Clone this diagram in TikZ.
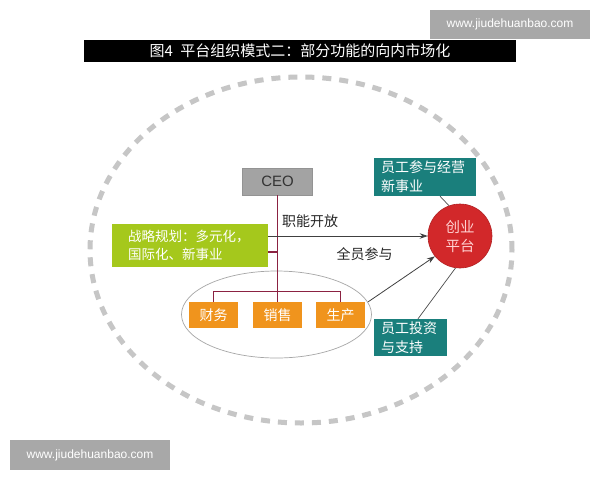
\documentclass[tikz,border=0pt]{standalone}
\usepackage{fontspec}
\setmainfont{Noto Sans CJK SC}
\newfontfamily\latf{Liberation Sans}
\usetikzlibrary{arrows.meta}
\definecolor{cOrange}{HTML}{F0941D}
\definecolor{cGreen}{HTML}{A5C81C}
\definecolor{cTeal}{HTML}{1A7F7C}
\definecolor{cRed}{HTML}{D2282A}
\definecolor{cCeo}{HTML}{A3A3A3}
\definecolor{cDash}{HTML}{C6C6C6}
\definecolor{cMaroon}{HTML}{8B2242}
\definecolor{cWm}{HTML}{A8A8A8}
\begin{document}
\begin{tikzpicture}[x=1pt,y=-1pt,
  ceobox/.style={fill=cCeo, draw=cCeo!90!black, line width=0.4pt, minimum width=70pt, minimum height=27pt, inner sep=0pt, text=black!80, font=\latf\fontsize{15}{18}\selectfont},
  greenbox/.style={fill=cGreen, minimum width=156pt, minimum height=43pt, inner xsep=16pt, inner ysep=0pt, text width=124pt, align=left, text=white, font=\fontsize{13.5}{18}\selectfont},
  orangebox/.style={fill=cOrange, minimum width=49pt, minimum height=26pt, inner sep=0pt, text=white, font=\fontsize{14}{16}\selectfont},
  tealbox/.style={fill=cTeal, inner xsep=7pt, inner ysep=0pt, align=left, text=white, font=\fontsize{14}{19}\selectfont},
  redcircle/.style={circle, fill=cRed, draw=cRed!85!black, line width=0.6pt, minimum size=64pt, inner sep=0pt, align=center, text=white!82!red, font=\fontsize{14.5}{19}\selectfont},
  orgline/.style={draw=cMaroon, line width=1.3pt},
  arrline/.style={draw=black!75, line width=0.8pt, -{Stealth[length=8pt,width=5.5pt]}},
  thinline/.style={draw=black!70, line width=0.7pt},
  lbl/.style={text=black!85, font=\fontsize{14}{16}\selectfont, inner sep=0pt},
  wmark/.style={fill=cWm, text=white, inner sep=0pt, font=\latf\fontsize{12}{14}\selectfont}
]
\useasboundingbox (0,0) rectangle (600,480);
\fill[white] (0,0) rectangle (600,480);

% title bar
\node[fill=black, minimum width=432pt, minimum height=22pt, inner sep=0pt, text=white,
      font=\fontsize{15}{18}\selectfont] (title) at (300,51) {图4\hspace{0.5em}平台组织模式二：部分功能的向内市场化};

% dashed outer ellipse
\draw[cDash, line width=5pt, dash pattern=on 9pt off 8pt] (301,250) ellipse [x radius=211pt, y radius=173pt];

% grey ellipse around functions
\draw[black!35, line width=0.7pt] (276.5,314.5) ellipse [x radius=95pt, y radius=43.5pt];

% nodes
\node[ceobox] (ceo) at (277.5,181.5) {CEO};
\node[greenbox] (strat) at (190,245.5) {战略规划：多元化，\\国际化、新事业};
\node[orangebox] (cw) at (213.5,315) {财务};
\node[orangebox] (xs) at (277.5,315) {销售};
\node[orangebox] (sc) at (340.5,315) {生产};
\node[redcircle] (pf) at (460,236) {创业\\平台};
\node[tealbox, minimum width=102pt, minimum height=38pt, text width=88pt] (t1) at (425,177) {员工参与经营\\新事业};
\node[tealbox, minimum width=73pt, minimum height=37pt, text width=59pt] (t2) at (410.5,337.5) {员工投资\\与支持};

% org lines
\draw[orgline] (ceo.south) -- (xs.north);
\draw[orgline] (cw.north) -- ++(0,-10) -| (sc.north);
\coordinate (j1) at (277.5,252);
\draw[orgline] (j1) -- (j1 -| strat.east);

% arrows
\draw[arrline] (strat.east |- pf.west) -- (pf.west);
\draw[arrline] ([xshift=3pt]sc.north east) -- (pf.219);
\draw[thinline] ([xshift=15pt]t1.south) -- (pf.110);
\draw[thinline] ([xshift=7.5pt]t2.north) -- (pf.262);

% labels
\node[lbl] (l1) at (310,221) {职能开放};
\node[lbl] (l2) at (364.5,254) {全员参与};

% watermarks
\node[wmark, minimum width=160pt, minimum height=29pt] (w1) at (510,24.5) {www.jiudehuanbao.com};
\node[wmark, minimum width=160pt, minimum height=30pt] (w2) at (90,455) {www.jiudehuanbao.com};
\end{tikzpicture}
\end{document}
